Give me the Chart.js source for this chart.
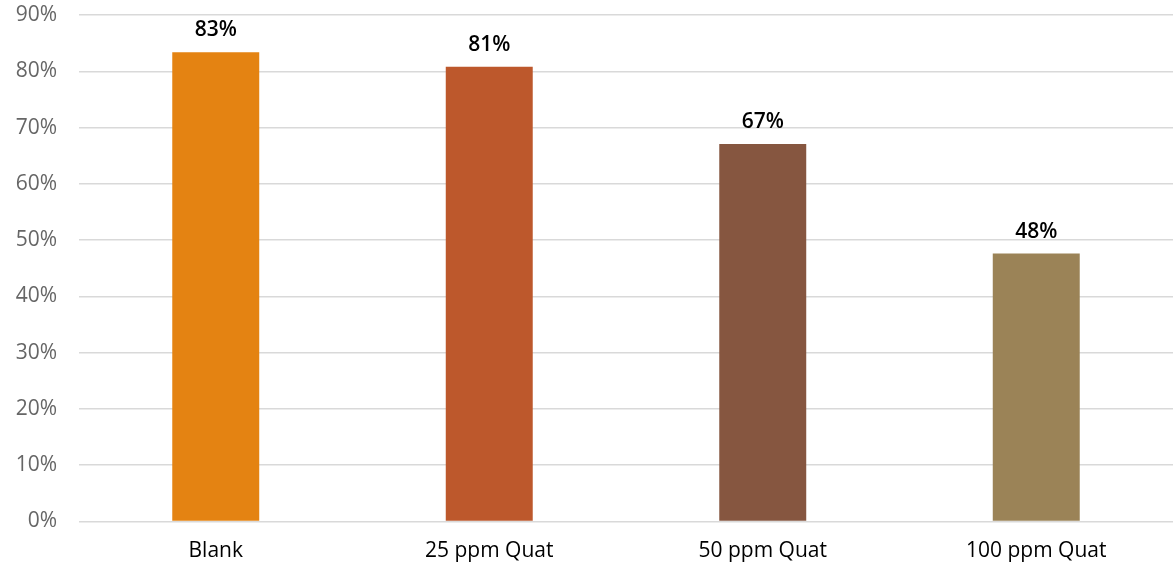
<!DOCTYPE html>
<html>
<head>
<meta charset="utf-8">
<script src="https://cdn.jsdelivr.net/npm/chart.js@4/dist/chart.umd.min.js"></script>
<style>
  html, body { margin: 0; padding: 0; background: #fff; }
  #wrap { width: 1173px; height: 569px; position: relative; }
</style>
</head>
<body>
<div id="wrap"><canvas id="c"></canvas></div>
<script>
// Treatment groups and their measured percentages
const categories = ['Blank', '25 ppm Quat', '50 ppm Quat', '100 ppm Quat'];
const values = [83.4, 80.8, 67.1, 47.6];
const barColors = ['#E48312', '#BD582C', '#865640', '#9B8357'];
const yTickMax = 90;
const yTickStep = 10;

const FONT = "'Open Sans', 'Liberation Sans', Arial, sans-serif";

// Draws the percentage above each bar
const valueLabels = {
  id: 'valueLabels',
  afterDatasetsDraw(chart) {
    const ctx = chart.ctx;
    const meta = chart.getDatasetMeta(0);
    ctx.save();
    ctx.font = `600 21px ${FONT}`;
    ctx.fillStyle = '#000';
    ctx.textAlign = 'center';
    ctx.textBaseline = 'alphabetic';
    meta.data.forEach((bar, i) => {
      ctx.fillText(Math.round(values[i]) + '%', bar.x, bar.y - 16);
    });
    ctx.restore();
  }
};

new Chart(document.getElementById('c'), {
  type: 'bar',
  data: {
    labels: categories,
    datasets: [{
      data: values,
      backgroundColor: barColors,
      borderWidth: 0,
      barPercentage: 0.318,
      categoryPercentage: 1.0
    }]
  },
  options: {
    responsive: true,
    maintainAspectRatio: false,
    animation: false,
    layout: { padding: { top: 15, right: 0, left: 0, bottom: 0 } },
    plugins: { legend: { display: false }, tooltip: { enabled: false } },
    scales: {
      x: {
        grid: { display: false, drawTicks: false },
        border: { display: false },
        ticks: {
          color: '#000',
          font: { family: FONT, size: 21 },
          padding: 17
        },
        afterFit(scale) { scale.height = 47.5; }
      },
      y: {
        min: 0,
        max: yTickMax,
        grid: { color: '#d9d9d9', lineWidth: 1.5, drawTicks: false },
        border: { display: false },
        ticks: {
          stepSize: yTickStep,
          color: '#666',
          font: { family: FONT, size: 21 },
          padding: 22,
          callback: v => v + '%'
        },
        afterFit(scale) {
          scale.width = 79;
          scale.paddingTop = 0;
          scale.paddingBottom = 0;
        }
      }
    }
  },
  plugins: [valueLabels]
});
</script>
</body>
</html>
